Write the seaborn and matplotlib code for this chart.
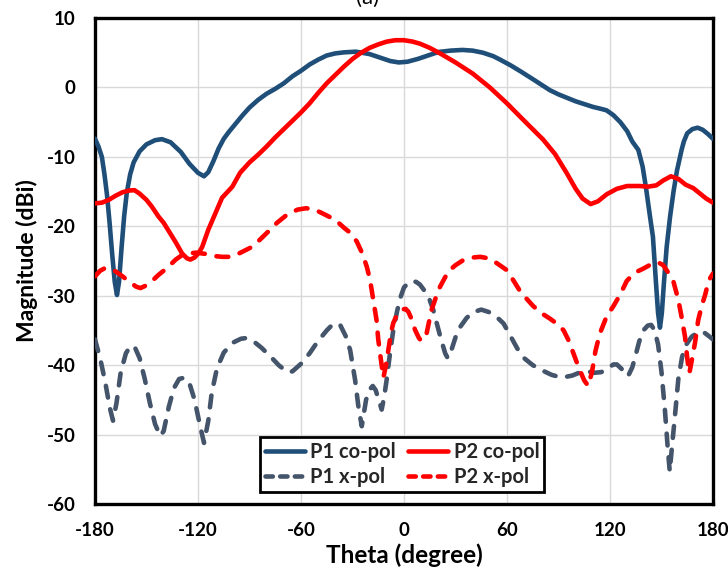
import numpy as np
import pandas as pd
import matplotlib
matplotlib.use("Agg")
import matplotlib.pyplot as plt
import seaborn as sns

# ---------------- data ----------------
p1_co_theta = [-180, -178, -176, -174.5, -173, -171.5, -170, -168.5, -167.2, -166, -164.5, -163,
               -161.5, -159.5, -157.5, -154, -150, -145, -141, -136, -130, -125, -120, -116.5,
               -114, -111, -108, -105, -102, -98, -94, -90, -85, -80, -75, -70, -65, -60, -55, -50, -45,
               -40, -35, -28, -20, -14, -8, -3, 2, 8, 14, 20, 27, 34, 40, 46, 52, 56, 62, 68,
               75, 80, 85, 90, 95, 100, 105, 110, 115, 118, 122, 126, 130, 133, 136.5, 139,
               141, 143.3, 145, 146.8, 148, 149.1, 150.2, 151.4, 153, 155, 157, 159, 161.7,
               163, 165, 168, 171, 174, 177, 180]
p1_co_val = [-7.4, -8.5, -10.0, -12.5, -15.5, -19.5, -24.0, -28.0, -29.9, -28.0, -23.0, -18.5,
             -15.2, -12.5, -10.8, -9.2, -8.2, -7.6, -7.45, -7.9, -9.3, -11.0, -12.3, -12.8,
             -12.2, -10.6, -8.8, -7.4, -6.4, -5.2, -4.0, -2.9, -1.8, -0.9, -0.2, 0.6, 1.6, 2.4, 3.3, 4.0, 4.6,
             4.9, 5.05, 5.15, 4.8, 4.3, 3.8, 3.6, 3.7, 4.1, 4.6, 5.1, 5.3, 5.4, 5.3, 5.0, 4.5,
             4.0, 3.2, 2.3, 1.2, 0.4, -0.4, -1.0, -1.5, -2.0, -2.4, -2.8, -3.1, -3.3, -4.0,
             -5.0, -6.3, -7.8, -9.0, -11.4, -14.5, -18.6, -21.5, -28.2, -32.5, -34.6, -32.5,
             -28.2, -23.0, -18.6, -15.0, -12.0, -9.0, -7.8, -6.6, -6.0, -5.8, -6.1, -6.7, -7.4]

p2_co_theta = [-180, -176, -172, -168, -164, -160, -157, -154, -150, -146.8, -143, -140, -137,
               -133, -129.3, -126.5, -124.5, -122, -119.5, -117.6, -114, -110, -106, -100,
               -95.5, -90, -85, -80, -75, -70, -65, -60, -55, -50, -45, -40, -35, -30, -25,
               -20, -15, -10, -5, 0, 5, 9.3, 15, 21, 30, 40, 50, 60, 70, 81, 88, 94.7, 100,
               104, 108.7, 113, 118, 124, 130, 137.4, 142, 147, 151, 155.5, 160, 164, 168.5,
               172, 176, 180]
p2_co_val = [-16.7, -16.6, -16.2, -15.6, -15.1, -14.85, -14.8, -15.3, -16.2, -17.2, -18.6,
             -19.5, -20.7, -22.3, -23.9, -24.6, -24.8, -24.5, -23.8, -23.0, -20.5, -18.2,
             -15.9, -14.3, -12.3, -10.8, -9.7, -8.5, -7.2, -6.0, -4.8, -3.6, -2.3, -0.8, 0.6,
             1.8, 3.0, 4.1, 5.0, 5.7, 6.2, 6.6, 6.8, 6.8, 6.6, 6.3, 5.7, 4.9, 3.6, 2.0, 0.0,
             -2.3, -4.8, -7.5, -9.6, -12.3, -14.6, -16.0, -16.8, -16.4, -15.4, -14.6, -14.2,
             -14.2, -14.3, -14.1, -13.4, -12.8, -13.2, -14.0, -14.5, -15.2, -16.0, -16.6]

p1_x_theta = [-180, -177, -174, -171.5, -169.5, -167.5, -165, -162, -159.5, -157, -154, -151,
              -148, -145, -142, -140, -137, -134, -131, -128, -125, -122, -119, -116.5, -114,
              -112, -109, -105, -100, -95, -92, -88, -83, -78, -73, -68, -65, -60, -55, -50,
              -45, -41, -39, -37, -34, -31.4, -28.5, -26.6, -24.6, -22.1, -20, -18.2, -16.5,
              -15, -13, -11.5, -10.1, -8, -6.2, -4, -2, 0, 3.5, 7, 9.3, 12, 14.2, 17, 19,
              21.5, 24, 25.5, 27, 30, 33, 36.5, 40, 45, 50, 55, 58, 62, 66, 70, 75, 80, 86,
              92, 98, 103, 107, 111, 115, 119, 122, 124, 127, 130.5, 133, 135, 137, 139.4,
              142, 144, 146, 148, 150, 152, 153.5, 154.8, 156.2, 157.8, 159.8, 162, 164.5,
              167.6, 171, 174.3, 177, 180]
p1_x_val = [-36.3, -39.0, -42.5, -46.0, -48.0, -45.5, -41.0, -38.3, -37.3, -37.3, -39.0, -42.0,
            -45.5, -48.5, -50.2, -49.5, -46.0, -43.3, -42.0, -41.8, -42.6, -45.0, -48.5, -51.2,
            -48.0, -44.0, -40.5, -38.2, -36.8, -36.2, -36.1, -36.5, -37.5, -38.7, -40.0, -41.0,
            -40.9, -39.8, -38.3, -36.5, -35.0, -34.0, -34.0, -34.3, -35.8, -37.8, -42.1, -45.9,
            -48.8, -45.0, -43.5, -43.0, -43.6, -44.8, -46.4, -44.5, -42.1, -38.0, -34.9, -32.2,
            -30.2, -28.8, -27.9, -28.0, -28.4, -29.3, -30.1, -32.0, -33.9, -36.2, -38.3, -39.0,
            -38.3, -36.0, -34.4, -33.2, -32.4, -32.0, -32.4, -33.3, -34.0, -35.8, -37.6, -39.0,
            -40.0, -40.7, -41.4, -41.8, -41.5, -41.0, -40.9, -41.1, -41.0, -40.4, -39.9, -39.9,
            -40.6, -41.6, -40.3, -38.5, -36.6, -35.0, -34.3, -34.2, -35.0, -37.0, -41.0, -46.5,
            -51.5, -55.3, -51.5, -47.4, -42.0, -38.8, -37.0, -35.9, -35.3, -35.2, -35.7, -36.3]

p2_x_theta = [-180, -177, -174, -171, -168, -164, -160, -156, -153.5, -150, -146, -143, -138,
              -133, -129, -125.4, -121, -115, -110, -106, -101, -96, -92, -88, -83, -78, -74,
              -68, -62, -57, -52, -47, -43, -39, -35, -31, -27.5, -24.5, -21.7, -19.8, -17.9,
              -16, -15, -13.3, -12, -10.5, -9.1, -7.5, -6.2, -4, -1.3, 1, 2.5, 4.5, 6.4, 8.5,
              9.9, 11.5, 13.2, 14.8, 16.1, 18.5, 21, 25.8, 30, 35, 40, 44.3, 49, 54, 59.8, 64,
              68, 72, 75.3, 80, 85, 90, 93, 96, 99, 102, 105, 107.3, 109.5, 111.5, 114, 118,
              122, 126, 129.7, 133, 136, 139.4, 143, 146, 148, 151, 154, 157, 159.8, 161.5,
              163.7, 165, 166.2, 167.5, 169.5, 171.4, 173.4, 175.5, 177.5, 180]
p2_x_val = [-27.2, -26.4, -26.0, -26.1, -26.5, -27.2, -28.0, -28.7, -28.9, -28.5, -27.7, -27.0,
            -26.0, -24.8, -24.1, -23.9, -23.8, -24.0, -24.3, -24.4, -24.4, -23.9, -23.4, -22.9,
            -21.7, -20.5, -19.5, -18.3, -17.6, -17.4, -17.6, -18.2, -18.7, -19.3, -20.2, -21.0,
            -22.2, -23.8, -25.8, -27.7, -30.6, -33.5, -36.3, -39.5, -41.8, -40.0, -37.8, -35.2,
            -33.9, -32.7, -32.0, -31.9, -32.3, -33.4, -34.9, -36.0, -36.5, -36.2, -35.4, -33.5,
            -32.0, -30.3, -28.7, -26.5, -25.6, -24.8, -24.5, -24.4, -24.6, -25.3, -26.3, -27.9,
            -29.5, -30.6, -31.5, -32.5, -33.3, -34.2, -35.0, -36.5, -38.5, -40.5, -42.2, -43.0,
            -41.0, -38.0, -35.5, -33.0, -31.5, -29.8, -27.9, -27.0, -26.5, -26.1, -25.6, -25.2,
            -25.2, -25.6, -26.7, -28.0, -30.6, -32.8, -35.9, -39.0, -41.2, -39.5, -36.8, -33.5,
            -31.5, -29.8, -27.8, -26.8]

series_names = ["P1 co-pol", "P2 co-pol", "P1 x-pol", "P2 x-pol"]
x_ticks = [-180, -120, -60, 0, 60, 120, 180]
y_ticks = [-60, -50, -40, -30, -20, -10, 0, 10]

# ---------------- build long table ----------------
frames = []
for name, th, v in zip(series_names,
                       [p1_co_theta, p2_co_theta, p1_x_theta, p2_x_theta],
                       [p1_co_val, p2_co_val, p1_x_val, p2_x_val]):
    frames.append(pd.DataFrame({"Theta": th, "Magnitude": v, "Series": name}))
df = pd.concat(frames, ignore_index=True)

sns.set_theme(style="white")
plt.rcParams["font.family"] = ["Lato", "DejaVu Sans"]
plt.rcParams["font.weight"] = "bold"

palette = {"P1 co-pol": "#1F4E79", "P2 co-pol": "#FF0000",
           "P1 x-pol": "#44546A", "P2 x-pol": "#FF0000"}
dashes = {"P1 co-pol": "", "P2 co-pol": "",
          "P1 x-pol": (2.6, 2.6), "P2 x-pol": (2.6, 2.6)}
LW = 3.3

fig = plt.figure(figsize=(7.28, 5.69), dpi=100)
ax = fig.add_axes([95 / 728, 1 - 504 / 569, 618 / 728, 486 / 569])

sns.lineplot(data=df, x="Theta", y="Magnitude", hue="Series", style="Series",
             hue_order=series_names, style_order=series_names,
             palette=palette, dashes=dashes, estimator=None, sort=True,
             linewidth=LW, ax=ax, legend=False, zorder=3)

for line in ax.get_lines():
    line.set_dash_capstyle("round")
    line.set_solid_capstyle("round")
    line.set_solid_joinstyle("round")
    line.set_dash_joinstyle("round")

ax.set_xlim(-180, 180)
ax.set_ylim(-60, 10)
ax.set_xticks(x_ticks)
ax.set_yticks(y_ticks)
ax.set_xticklabels([str(t) for t in x_ticks])
ax.set_yticklabels([str(t) for t in y_ticks])
ax.grid(True, color="#D9D9D9", linewidth=1.0, zorder=0)
ax.set_axisbelow(True)

for s in ax.spines.values():
    s.set_visible(True)
    s.set_color("black")
    s.set_linewidth(2.4)

ax.tick_params(axis="both", direction="in", length=6, width=2, color="black",
               labelsize=13.5, labelcolor="black")
ax.tick_params(axis="y", pad=14)
ax.tick_params(axis="x", pad=13)
for lab in ax.get_xticklabels() + ax.get_yticklabels():
    lab.set_fontweight("bold")

ax.set_xlabel("Theta (degree)", fontsize=17.5, fontweight="bold", color="black", labelpad=3)
ax.set_ylabel("Magnitude (dBi)", fontsize=16.5, fontweight="bold", color="black", labelpad=6)

# legend
handles = []
for name in series_names:
    ls = "-" if "co" in name else (0, (1.6, 1.6))
    h, = ax.plot([], [], color=palette[name], linewidth=LW, linestyle=ls,
                 dash_capstyle="round", solid_capstyle="round")
    handles.append(h)
order = [0, 2, 1, 3]
leg = ax.legend([handles[i] for i in order], [series_names[i] for i in order],
                ncol=2, loc="lower center", bbox_to_anchor=(0.497, 0.024),
                frameon=True, fancybox=False, framealpha=1, edgecolor="black",
                prop={"weight": "bold", "size": 14.5}, handlelength=2.0,
                handletextpad=0.25, columnspacing=0.6, borderpad=0.25,
                labelspacing=0.25, borderaxespad=0)
leg.get_frame().set_linewidth(2.0)
leg.set_zorder(5)

fig.text(368 / 728, 1 - 4 / 569, "(a)", ha="center", va="baseline",
         fontsize=16, fontweight="normal", color="black")

fig.savefig("out.png", dpi=100)
